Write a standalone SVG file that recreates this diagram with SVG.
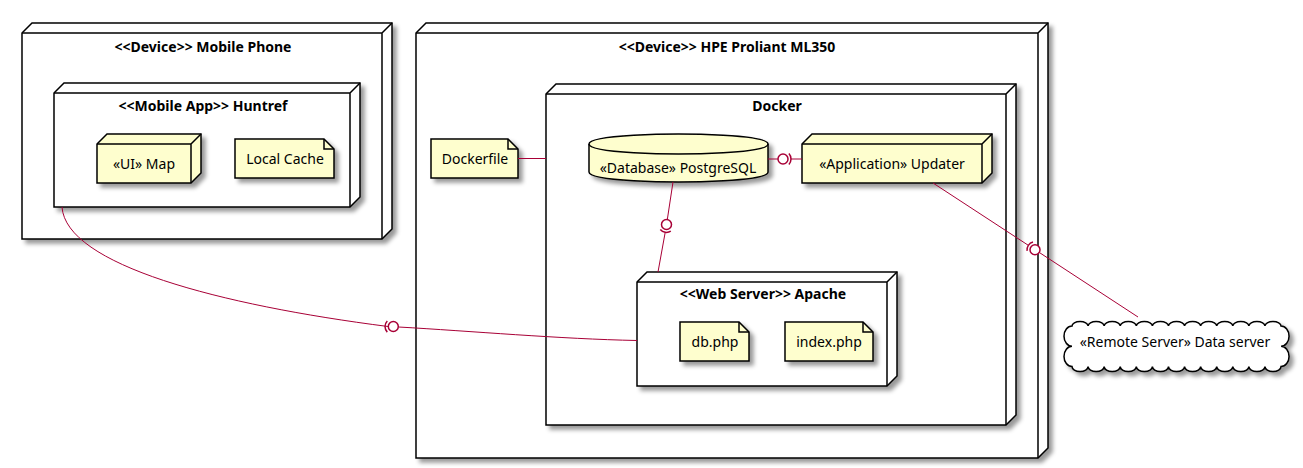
<svg xmlns="http://www.w3.org/2000/svg" width="1303" height="468" viewBox="0 0 1303 468">
<defs>
<filter id="sh" x="-1" y="-1" width="300%" height="300%">
<feGaussianBlur stdDeviation="2" result="b"/>
<feColorMatrix in="b" type="matrix" values="0 0 0 0 0 0 0 0 0 0 0 0 0 0 0 0 0 0 .4 0" result="b2"/>
<feOffset in="b2" dx="4" dy="4" result="b3"/>
<feBlend in="SourceGraphic" in2="b3" mode="normal"/>
</filter>
</defs>
<style>
.box{fill:#FFFFFF;stroke:#000000;stroke-width:1.5;filter:url(#sh)}
.leaf{fill:#FEFECE;stroke:#000000;stroke-width:1.5;filter:url(#sh)}
.edge{fill:none;stroke:#000000;stroke-width:1.5}
.t{font-family:"Noto Sans","Open Sans","DejaVu Sans",sans-serif;font-size:14px;fill:#000000;text-anchor:middle}
.b{font-weight:bold}
.c{fill:none;stroke:#A80036;stroke-width:1}
.cc{fill:#FFFFFF;stroke:#A80036;stroke-width:1.5}
.ca{fill:none;stroke:#A80036;stroke-width:1.5}
</style>
<rect width="1303" height="468" fill="#FFFFFF"/>

<g id="mobile_phone">
<polygon class="box" points="22,33 32,23 392,23 392,229 382,239 22,239"/>
<path class="edge" d="M382,33 L392,23 M22,33 L382,33 M382,33 L382,239"/>
<text class="t b" x="203" y="52">&lt;&lt;Device&gt;&gt; Mobile Phone</text>
</g>

<g id="huntref">
<polygon class="box" points="54,93 64,83 360,83 360,197 350,207 54,207"/>
<path class="edge" d="M350,93 L360,83 M54,93 L350,93 M350,93 L350,207"/>
<text class="t b" x="203" y="111">&lt;&lt;Mobile App&gt;&gt; Huntref</text>
</g>

<g id="map">
<polygon class="leaf" points="97,144 107,134 201,134 201,173 191,183 97,183"/>
<path class="edge" d="M191,144 L201,134 M97,144 L191,144 M191,144 L191,183"/>
<text class="t" x="144" y="169">«UI» Map</text>
</g>

<g id="local_cache">
<path class="leaf" d="M235,139 L324,139 L334,149 L334,178 L235,178 Z"/>
<path class="edge" d="M324,139 L324,149 L334,149"/>
<text class="t" x="285" y="164">Local Cache</text>
</g>

<g id="hpe">
<polygon class="box" points="416,33 426,23 1048,23 1048,448 1038,458 416,458"/>
<path class="edge" d="M1038,33 L1048,23 M416,33 L1038,33 M1038,33 L1038,458"/>
<text class="t b" x="727" y="52">&lt;&lt;Device&gt;&gt; HPE Proliant ML350</text>
</g>

<g id="dockerfile">
<path class="leaf" d="M431,139 L508,139 L518,149 L518,178 L431,178 Z"/>
<path class="edge" d="M508,139 L508,149 L518,149"/>
<text class="t" x="475" y="164">Dockerfile</text>
</g>

<g id="docker">
<polygon class="box" points="546,94 556,84 1016,84 1016,415 1006,425 546,425"/>
<path class="edge" d="M1006,94 L1016,84 M546,94 L1006,94 M1006,94 L1006,425"/>
<text class="t b" x="777" y="111">Docker</text>
</g>

<g id="postgresql">
<path class="leaf" d="M589,144 C589,134 678.5,134 678.5,134 C678.5,134 768,134 768,144 L768,172 C768,182 678.5,182 678.5,182 C678.5,182 589,182 589,172 Z"/>
<path class="edge" d="M589,144 C589,154 678.5,154 678.5,154 C678.5,154 768,154 768,144"/>
<text class="t" x="678" y="173">«Database» PostgreSQL</text>
</g>

<g id="updater">
<polygon class="leaf" points="802,144 812,134 992,134 992,173 982,183 802,183"/>
<path class="edge" d="M982,144 L992,134 M802,144 L982,144 M982,144 L982,183"/>
<text class="t" x="892" y="169">«Application» Updater</text>
</g>

<g id="apache">
<polygon class="box" points="637,282 647,272 897,272 897,376 887,386 637,386"/>
<path class="edge" d="M887,282 L897,272 M637,282 L887,282 M887,282 L887,386"/>
<text class="t b" x="763" y="299">&lt;&lt;Web Server&gt;&gt; Apache</text>
</g>

<g id="db_php">
<path class="leaf" d="M680,322 L739,322 L749,332 L749,361 L680,361 Z"/>
<path class="edge" d="M739,322 L739,332 L749,332"/>
<text class="t" x="715" y="347">db.php</text>
</g>

<g id="index_php">
<path class="leaf" d="M785,322 L863,322 L873,332 L873,361 L785,361 Z"/>
<path class="edge" d="M863,322 L863,332 L873,332"/>
<text class="t" x="829" y="347">index.php</text>
</g>

<g id="data_server">
<path class="box" d="M1072,326 a8.04,4.5 0 0 1 16.08,0 a8.04,4.5 0 0 1 16.08,0 a8.04,4.5 0 0 1 16.08,0 a8.04,4.5 0 0 1 16.08,0 a8.04,4.5 0 0 1 16.08,0 a8.04,4.5 0 0 1 16.08,0 a8.04,4.5 0 0 1 16.08,0 a8.04,4.5 0 0 1 16.08,0 a8.04,4.5 0 0 1 16.08,0 a8.04,4.5 0 0 1 16.08,0 a8.04,4.5 0 0 1 16.08,0 a8.04,4.5 0 0 1 16.08,0 a8.04,4.5 0 0 1 16.08,0 a8,10.125 0 0 1 0,20.25 a8,10.125 0 0 1 0,20.25 a8.04,5 0 0 1 -16.08,0 a8.04,5 0 0 1 -16.08,0 a8.04,5 0 0 1 -16.08,0 a8.04,5 0 0 1 -16.08,0 a8.04,5 0 0 1 -16.08,0 a8.04,5 0 0 1 -16.08,0 a8.04,5 0 0 1 -16.08,0 a8.04,5 0 0 1 -16.08,0 a8.04,5 0 0 1 -16.08,0 a8.04,5 0 0 1 -16.08,0 a8.04,5 0 0 1 -16.08,0 a8.04,5 0 0 1 -16.08,0 a8.04,5 0 0 1 -16.08,0 a8,10.125 0 0 1 0,-20.25 a8,10.125 0 0 1 0,-20.25 Z"/>
<text class="t" x="1175" y="347">«Remote Server» Data server</text>
</g>

<g id="connectors">
<path class="c" d="M518,158.5 L546,158.5"/>

<path class="c" d="M768,159 L778,159"/>
<circle class="cc" cx="783" cy="159" r="5"/>
<path class="ca" d="M788.9,153.6 A8,8 0 0 1 788.9,164.4"/>
<path class="c" d="M791,159 L802,159"/>

<path class="c" d="M673,182 L667.3,219.6"/>
<circle class="cc" cx="666.5" cy="224.5" r="5"/>
<path class="ca" d="M670.8,231.2 A8,8 0 0 1 660.3,229.5"/>
<path class="c" d="M665.2,232.4 L658,272"/>

<path class="c" d="M933,183 L1028.3,245.3"/>
<path class="ca" d="M1027.1,250.9 A8,8 0 0 1 1033,242"/>
<circle class="cc" cx="1035" cy="249.7" r="5"/>
<path class="c" d="M1039.2,252.4 L1138,317"/>

<path class="c" d="M62,207 C66,265 220,305 388,326.5"/>
<path class="ca" d="M387.3,320.9 A8,8 0 0 0 387.3,332.1"/>
<circle class="cc" cx="393.3" cy="326.5" r="5"/>
<path class="c" d="M398.5,327 C470,331 560,339 637,340.5"/>
</g>
</svg>
